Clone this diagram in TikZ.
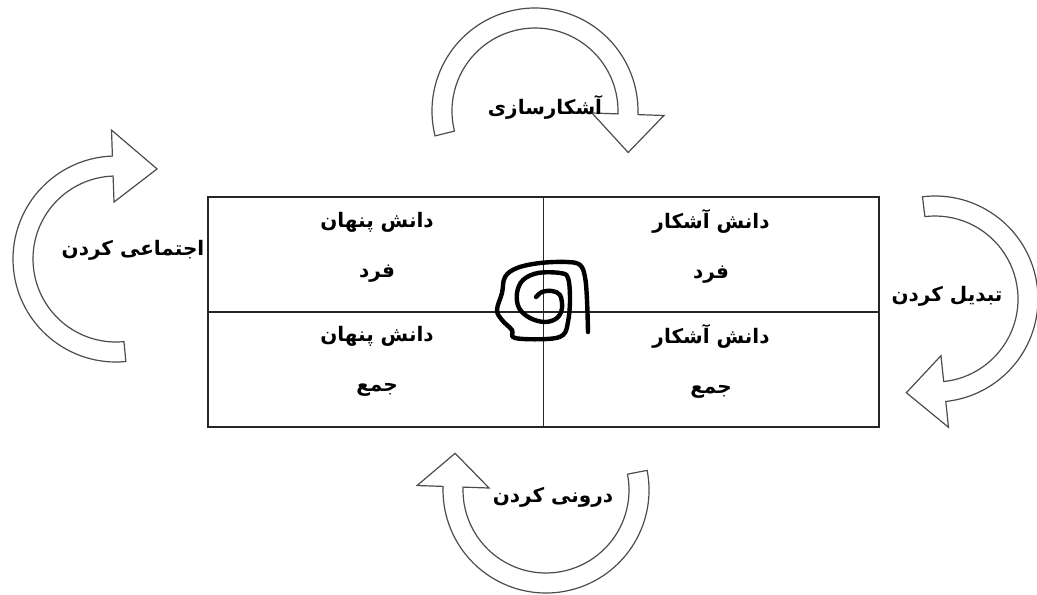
\documentclass[tikz,border=0pt]{standalone}
\usepackage{fontspec}
\usetikzlibrary{calc}
\newfontfamily\arabicfont[Script=Arabic]{DejaVu Sans}
\TeXXeTstate=1

\begin{document}
\begin{tikzpicture}[
  x=0.5pt,y=-0.5pt,
  font=\arabicfont\bfseries\fontsize{10}{25}\selectfont,
  band/.style={draw=black!70,fill=white,line width=0.6pt,line join=miter},
  grid/.style={draw=black!85,line width=0.8pt},
  lbl/.style={inner sep=1pt,align=center},
  spiral/.style={line width=2.2pt,line cap=round,line join=round}
]
\useasboundingbox (0,0) rectangle (1037,594);

% curved arrows: centre / start / end of band / tip angle / tip radius
\foreach \cx/\cy/\s/\e/\t/\rt in {535/111/166/362/384/102,116/259/84.5/268/294.5/99,546/490/-11/182/202/98,935/299/-97/84/107/98}
  \draw[band] ($(\cx,\cy)+(\s:103)$) arc[start angle=\s,end angle=\e,radius=103]
    -- ($(\cx,\cy)+(\e:129)$) -- ($(\cx,\cy)+(\t:\rt)$) -- ($(\cx,\cy)+(\e:57)$)
    -- ($(\cx,\cy)+(\e:83)$) arc[start angle=\e,end angle=\s,radius=83] -- cycle;

% the four cells
\node[grid,minimum width=335.5pt,minimum height=115pt,inner sep=0pt] (frame) at (543.5,312) {};
\draw[grid] (frame.north) -- (frame.south);
\draw[grid] (frame.west) -- (frame.east);

\draw[spiral] plot[smooth,tension=0.6] coordinates {(536,297) (542,292) (552,291) (560,295) (562,308) (557,318) (545,322) (530,318) (519,308) (517,293) (523,280) (538,273) (560,273) (568,278) (570,300) (568,322) (563,335) (547,339) (515,338) (512,330) (502,320) (497,310) (502,293) (505,277) (517,268) (540,263) (567,262) (580,265) (585,277) (587,300) (588,332)};

\node[lbl] (tl) at (377,247) {\beginR دانش پنهان\endR\\\beginR فرد\endR};
\node[lbl] (tr) at (711,246) {\beginR دانش آشکار\endR\\\beginR فرد\endR};
\node[lbl] (bl) at (377,361) {\beginR دانش پنهان\endR\\\beginR جمع\endR};
\node[lbl] (br) at (711,361) {\beginR دانش آشکار\endR\\\beginR جمع\endR};

\node[lbl] (explicit) at (545,107) {\beginR آشکارسازی\endR};
\node[lbl] (social) at (133,250) {\beginR اجتماعی کردن\endR};
\node[lbl] (combine) at (947,296) {\beginR تبدیل کردن\endR};
\node[lbl] (internal) at (553,497) {\beginR درونی کردن\endR};
\end{tikzpicture}
\end{document}
